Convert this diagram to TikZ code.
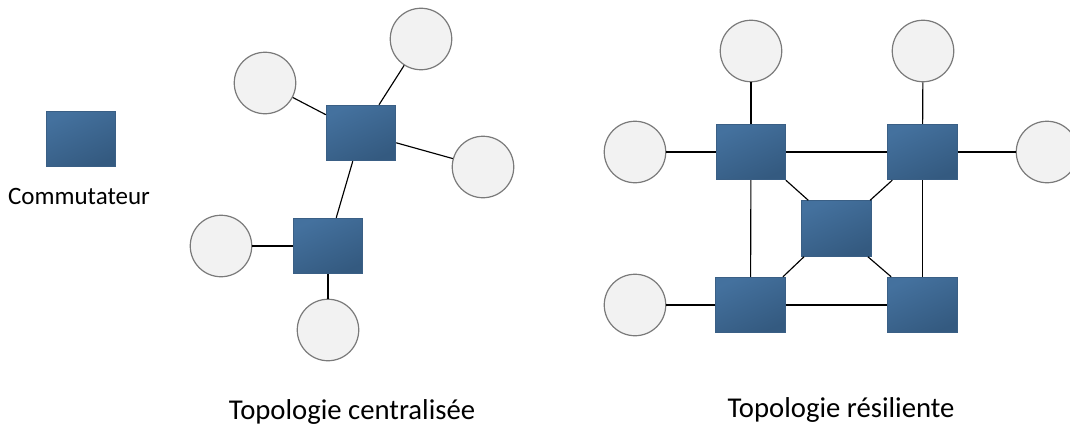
\documentclass[tikz,border=0pt]{standalone}
\usepackage{fontspec}
\setmainfont{Carlito}
\tikzset{
  x=1pt,y=-1pt,
  switchbox/.style={rectangle,minimum width=69.5pt,minimum height=55.5pt,inner sep=0pt,draw=swedge,line width=0.9pt,top color=swtop,bottom color=swbot,shading angle=25},
  hostdisc/.style={circle,minimum size=61.5pt,inner sep=0pt,draw=hostedge,fill=hostfill,line width=1.2pt},
  link/.style={draw=black,line width=1.15pt},
  smalllabel/.style={font=\fontsize{25}{28}\selectfont,text=black,inner sep=0pt},
  biglabel/.style={font=\fontsize{28.7}{32}\selectfont,text=black,inner sep=0pt}
}
\definecolor{swtop}{HTML}{44719E}
\definecolor{swbot}{HTML}{345A80}
\definecolor{swedge}{HTML}{3A5F85}
\definecolor{hostedge}{HTML}{7A7A7A}
\definecolor{hostfill}{HTML}{F2F2F2}
\begin{document}
\begin{tikzpicture}
\useasboundingbox (0,0) rectangle (1070,428);
% legend
\node[switchbox] (legend) at (81,139) {};
\node[smalllabel] (legendtext) at (79,196) {Commutateur};
% centralised
\node[switchbox] (s1) at (361,133) {};
\node[switchbox] (s2) at (328,246) {};
\node[hostdisc] (h1) at (421,39) {};
\node[hostdisc] (h2) at (265,83) {};
\node[hostdisc] (h3) at (483,167) {};
\node[hostdisc] (h4) at (221,246) {};
\node[hostdisc] (h5) at (328,330) {};
\draw[link] (s1) -- (h1);
\draw[link] (s1) -- (h2);
\draw[link] (s1) -- (h3);
\draw[link] (s1) -- (s2);
\draw[link] (s2) -- (h4);
\draw[link] (s2) -- (h5);
\node[biglabel] (t1) at (352,412) {Topologie centralisée};
% resilient
\node[switchbox] (a) at (751,152) {};
\node[switchbox] (b) at (922.5,152) {};
\node[switchbox] (c) at (836.5,228.5) {};
\node[switchbox] (d) at (750.5,305) {};
\node[switchbox] (e) at (922.5,305) {};
\node[hostdisc] (ra) at (751,51) {};
\node[hostdisc] (rb) at (923,51) {};
\node[hostdisc] (rc) at (635,152) {};
\node[hostdisc] (rd) at (1047,152) {};
\node[hostdisc] (re) at (635,305) {};
\draw[link] (a) -- (ra);
\draw[link] (b) -- (rb);
\draw[link] (a) -- (rc);
\draw[link] (b) -- (rd);
\draw[link] (d) -- (re);
\draw[link] (a) -- (b);
\draw[link] (d) -- (e);
\draw[link] (a) -- (d);
\draw[link] (b) -- (e);
\draw[link] (a.321.3) -- (c.135);
\draw[link] (b.223.5) -- (c.40);
\draw[link] (d.41.6) -- (c.221.6);
\draw[link] (e.138.4) -- (c.318.4);
\node[biglabel] (t2) at (841,410) {Topologie résiliente};
\end{tikzpicture}
\end{document}
